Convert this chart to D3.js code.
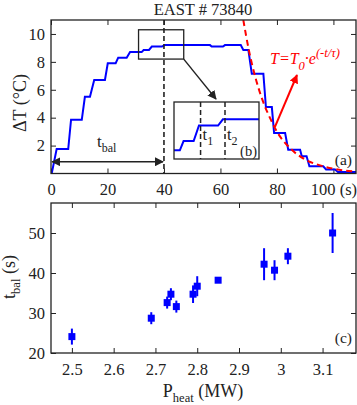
<!DOCTYPE html>
<html>
<head>
<meta charset="utf-8">
<script src="https://cdn.jsdelivr.net/npm/d3@7"></script>
<style>
  body { margin: 0; background: #fff; }
  svg text { font-family: "Liberation Serif", "DejaVu Serif", serif; fill: #222; }
</style>
</head>
<body>
<div id="chart"></div>
<script>
// ---- panel (a): temperature rise vs time, EAST #73840
const tempT = [0, 0.25, 2.0, 6.1, 7.1, 10.9, 12.0, 13.8, 15.3, 19.1, 20.1, 22.9, 23.8, 26.8, 28.0,
               32.1, 32.8, 34.7, 35.7, 39.3, 40.2, 56.3, 56.9, 60.9, 61.6, 67.2, 68.1, 69.9, 71.1,
               75.2, 76.1, 78.2, 79.0, 82.9, 84.0, 88.2, 88.8, 90.5, 91.5, 96.4, 97.4, 100.6, 101.6, 108];
const tempV = [0, 0, 1.75, 1.75, 3.85, 3.85, 5.5, 5.5, 6.7, 6.7, 7.9, 7.9, 8.3, 8.3, 8.7,
               8.7, 8.85, 8.85, 9.1, 9.1, 9.2, 9.2, 9.1, 9.1, 9.2, 9.2, 8.85, 8.85, 7.15,
               7.15, 4.76, 4.76, 2.9, 2.9, 1.7, 1.7, 1.24, 1.24, 0.52, 0.52, 0.29, 0.29, 0.1, 0.1];
// exponential fit
const fitT = [68.1, 70, 72.5, 75, 77.5, 80, 85, 90, 95, 100, 108];
const fitV = [11, 8.9, 6.8, 5.2, 4.0, 3.0, 1.75, 1.0, 0.6, 0.34, 0.14];
const tBalValue = 40;
const zoomBox = {t0: 31, t1: 47, v0: 8.2, v1: 10.3};
const insetMarks = [36, 40.6];
const timeTicks = [0, 20, 40, 60, 80, 100];
const tempTicks = [2, 4, 6, 8, 10];

// ---- panel (c): balance time vs heating power
const pHeat   = [2.5, 2.69, 2.728, 2.737, 2.75, 2.79, 2.80, 2.85, 2.96, 2.985, 3.017, 3.124];
const tBal    = [24.1, 28.7, 32.6, 34.7, 31.6, 34.7, 36.7, 38.2, 42.2, 40.7, 44.2, 50];
const tBalErr = [2, 1.5, 1.5, 1.5, 1.5, 2.2, 2.5, 0.7, 4, 2.5, 2, 5];
const pTicks = [2.5, 2.6, 2.7, 2.8, 2.9, 3, 3.1];
const tBalTicks = [20, 30, 40, 50];

const W = 357, H = 405;
const blue = "#0000ff", red = "#ff0000", ink = "#222";

const svg = d3.select("#chart").append("svg")
    .attr("width", W).attr("height", H);

const defs = svg.append("defs");
function marker(id, color) {
    defs.append("marker")
        .attr("id", id).attr("viewBox", "0 0 10 10")
        .attr("refX", 9).attr("refY", 5)
        .attr("markerWidth", 9).attr("markerHeight", 9)
        .attr("markerUnits", "userSpaceOnUse")
        .attr("orient", "auto-start-reverse")
        .append("path").attr("d", "M0,0L10,5L0,10z").attr("fill", color);
}
marker("arrK", ink);
marker("arrR", red);

// ================= panel (a)
const xA = d3.scaleLinear().domain([0, 108]).range([51, 356]);
const yA = d3.scaleLinear().domain([0, 11]).range([173.5, 20]);

defs.append("clipPath").attr("id", "clipA").append("rect")
    .attr("x", 51).attr("y", 20).attr("width", 305).attr("height", 153.5);

function frame(x, y) {
    const g = svg.append("g");
    const [x0, x1] = x.range(), [y0, y1] = y.range();
    g.append("rect").attr("x", x0).attr("y", y1)
        .attr("width", x1 - x0).attr("height", y0 - y1)
        .attr("fill", "none").attr("stroke", ink).attr("stroke-width", 1.3);
    return g;
}

function axes(x, y, xt, yt, xfmt, yfmt, xpad) {
    const [x0, x1] = x.range(), [y0, y1] = y.range();
    const gb = svg.append("g").attr("transform", `translate(0,${y0})`)
        .call(d3.axisBottom(x).tickValues(xt).tickSize(-5).tickPadding(xpad).tickFormat(xfmt));
    const gt = svg.append("g").attr("transform", `translate(0,${y1})`)
        .call(d3.axisTop(x).tickValues(xt).tickSize(-5).tickFormat(""));
    const gl = svg.append("g").attr("transform", `translate(${x0},0)`)
        .call(d3.axisLeft(y).tickValues(yt).tickSize(-5).tickPadding(6).tickFormat(yfmt));
    const gr = svg.append("g").attr("transform", `translate(${x1},0)`)
        .call(d3.axisRight(y).tickValues(yt).tickSize(-5).tickFormat(""));
    [gb, gt, gl, gr].forEach(g => {
        g.select(".domain").remove();
        g.selectAll(".tick line").attr("stroke", ink).attr("stroke-width", 1);
        g.selectAll("text").attr("font-size", 16.5).attr("fill", ink)
            .style("font-family", '"Liberation Serif", serif');
    });
}

axes(xA, yA, timeTicks, tempTicks, d => d === 100 ? "100 (s)" : d, d => d, 10);

const lineA = d3.line().x((d, i) => xA(tempT[i])).y(d => yA(d));
svg.append("path").datum(tempV)
    .attr("clip-path", "url(#clipA)")
    .attr("d", lineA).attr("fill", "none")
    .attr("stroke", blue).attr("stroke-width", 2);

const lineFit = d3.line().x((d, i) => xA(fitT[i])).y(d => yA(d)).curve(d3.curveMonotoneX);
svg.append("path").datum(fitV)
    .attr("clip-path", "url(#clipA)")
    .attr("d", lineFit).attr("fill", "none")
    .attr("stroke", red).attr("stroke-width", 2).attr("stroke-dasharray", "6,4");

// t_bal dashed marker and double arrow
svg.append("line")
    .attr("x1", xA(tBalValue)).attr("x2", xA(tBalValue))
    .attr("y1", yA(11)).attr("y2", yA(0))
    .attr("stroke", ink).attr("stroke-width", 1.6).attr("stroke-dasharray", "5,3");
svg.append("line")
    .attr("x1", xA(0.4)).attr("x2", xA(tBalValue) - 1)
    .attr("y1", yA(0.84)).attr("y2", yA(0.84))
    .attr("stroke", ink).attr("stroke-width", 1.5)
    .attr("marker-start", "url(#arrK)").attr("marker-end", "url(#arrK)");
const tb = svg.append("text").attr("x", 97).attr("y", 147).attr("font-size", 17);
tb.append("tspan").text("t");
tb.append("tspan").attr("dy", 5).attr("font-size", 12).text("bal");

frame(xA, yA);

// zoom box and pointer to inset
svg.append("rect")
    .attr("x", xA(zoomBox.t0)).attr("y", yA(zoomBox.v1))
    .attr("width", xA(zoomBox.t1) - xA(zoomBox.t0))
    .attr("height", yA(zoomBox.v0) - yA(zoomBox.v1))
    .attr("fill", "none").attr("stroke", ink).attr("stroke-width", 1.3);
svg.append("line")
    .attr("x1", xA(zoomBox.t1)).attr("y1", yA(zoomBox.v0))
    .attr("x2", 216).attr("y2", 99)
    .attr("stroke", ink).attr("stroke-width", 1.4)
    .attr("marker-end", "url(#arrK)");

// inset (b)
const xI = d3.scaleLinear().domain([zoomBox.t0, zoomBox.t1]).range([174, 259]);
const yI = d3.scaleLinear().domain([8.56, 9.48]).range([159, 102]);
defs.append("clipPath").attr("id", "clipI").append("rect")
    .attr("x", 174).attr("y", 102).attr("width", 85).attr("height", 57);
svg.append("rect").attr("x", 174).attr("y", 102).attr("width", 85).attr("height", 57)
    .attr("fill", "#fff").attr("stroke", "none");
const lineI = d3.line().x((d, i) => xI(tempT[i])).y(d => yI(d));
svg.append("path").datum(tempV)
    .attr("clip-path", "url(#clipI)")
    .attr("d", lineI).attr("fill", "none")
    .attr("stroke", blue).attr("stroke-width", 2);
svg.selectAll(".imark").data(insetMarks).join("line")
    .attr("x1", d => xI(d)).attr("x2", d => xI(d))
    .attr("y1", 102).attr("y2", 159)
    .attr("stroke", ink).attr("stroke-width", 1.5).attr("stroke-dasharray", "5,3");
svg.append("rect").attr("x", 174).attr("y", 102).attr("width", 85).attr("height", 57)
    .attr("fill", "none").attr("stroke", ink).attr("stroke-width", 1.3);
insetMarks.forEach((d, i) => {
    const t = svg.append("text").attr("x", xI(d) + 2).attr("y", 140).attr("font-size", 16.5);
    t.append("tspan").text("t");
    t.append("tspan").attr("dy", 5).attr("font-size", 12).text(i + 1);
});
svg.append("text").attr("x", 257).attr("y", 156).attr("text-anchor", "end")
    .attr("font-size", 14.5).text("(b)");

// fit formula + red arrow
svg.append("line")
    .attr("x1", xA(79.3)).attr("y1", yA(3.34))
    .attr("x2", 297).attr("y2", 75)
    .attr("stroke", red).attr("stroke-width", 2)
    .attr("marker-end", "url(#arrR)");
const fx = svg.append("text").attr("x", 270).attr("y", 64)
    .attr("font-size", 16).style("font-style", "italic").style("fill", red);
fx.append("tspan").text("T=T");
fx.append("tspan").attr("dy", 6).attr("font-size", 12.5).text("0");
fx.append("tspan").attr("dy", -6).text("·e");
fx.append("tspan").attr("dy", -7).attr("font-size", 12.5).text("(-t/τ)");

svg.append("text").attr("x", 352).attr("y", 165).attr("text-anchor", "end")
    .attr("font-size", 15.5).text("(a)");

svg.append("text").attr("x", 203).attr("y", 15).attr("text-anchor", "middle")
    .attr("font-size", 16.5).text("EAST # 73840");

svg.append("text").attr("transform", "translate(26,103) rotate(-90)")
    .attr("text-anchor", "middle").attr("font-size", 18).text("ΔT (°C)");

// ================= panel (c)
const xC = d3.scaleLinear().domain([2.45, 3.18]).range([51, 356]);
const yC = d3.scaleLinear().domain([20, 57.5]).range([353, 203]);

axes(xC, yC, pTicks, tBalTicks, d => d, d => d, 10);

const pts = pHeat.map((p, i) => ({p, t: tBal[i], e: tBalErr[i]}));
svg.append("g").selectAll("line").data(pts).join("line")
    .attr("x1", d => xC(d.p)).attr("x2", d => xC(d.p))
    .attr("y1", d => yC(d.t - d.e)).attr("y2", d => yC(d.t + d.e))
    .attr("stroke", blue).attr("stroke-width", 2);
svg.append("g").selectAll("rect").data(pts).join("rect")
    .attr("x", d => xC(d.p) - 3.5).attr("y", d => yC(d.t) - 3.5)
    .attr("width", 7).attr("height", 7).attr("fill", blue);

frame(xC, yC);

svg.append("text").attr("x", 352).attr("y", 343).attr("text-anchor", "end")
    .attr("font-size", 15.5).text("(c)");

const xl = svg.append("text").attr("x", 203).attr("y", 397)
    .attr("text-anchor", "middle").attr("font-size", 18);
xl.append("tspan").text("P");
xl.append("tspan").attr("dy", 5).attr("font-size", 12.5).text("heat");
xl.append("tspan").attr("dy", -5).text(" (MW)");

const yl = svg.append("text").attr("transform", "translate(15,277) rotate(-90)")
    .attr("text-anchor", "middle").attr("font-size", 18);
yl.append("tspan").text("t");
yl.append("tspan").attr("dy", 5).attr("font-size", 12.5).text("bal");
yl.append("tspan").attr("dy", -5).text(" (s)");
</script>
</body>
</html>
